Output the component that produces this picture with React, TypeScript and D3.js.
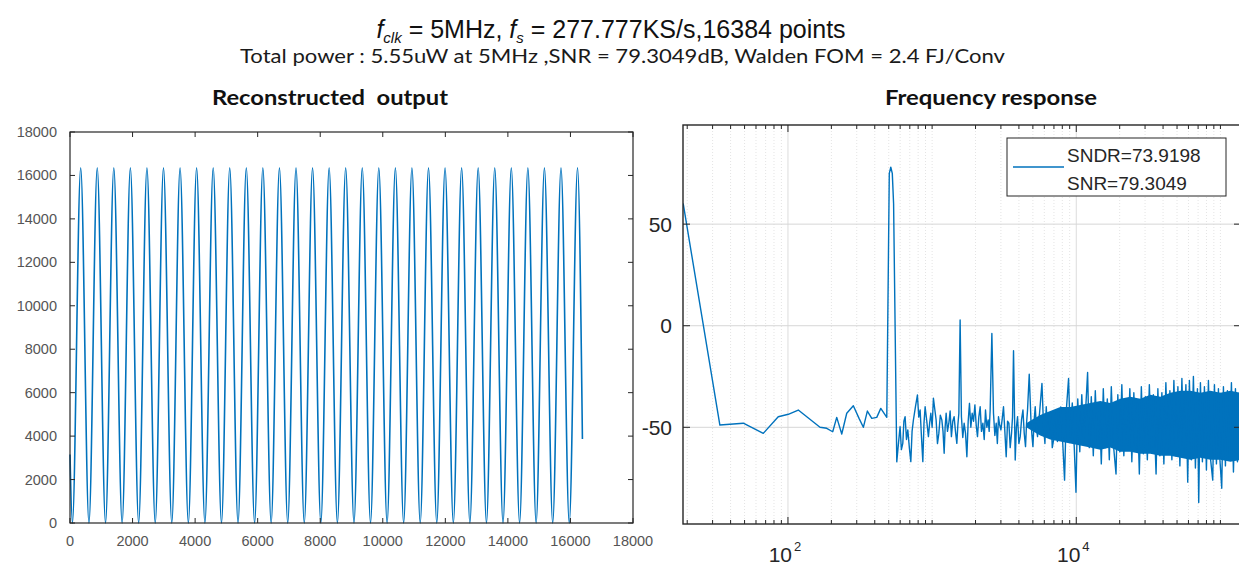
import React from "react";
import * as d3 from "d3";

const width = 1239;
const height = 567;
const blue = "#0072BD";
const axisColor = "#262626";

// reconstructed output: sample index of each turning point and its code
const outIndex = [
  0, 77, 342, 606, 871, 1136, 1401, 1666, 1930, 2195, 2460, 2725, 2989, 3254,
  3519, 3784, 4048, 4313, 4578, 4843, 5107, 5372, 5637, 5902, 6166, 6431, 6696,
  6961, 7226, 7490, 7755, 8020, 8285, 8549, 8814, 9079, 9344, 9608, 9873,
  10138, 10403, 10667, 10932, 11197, 11462, 11726, 11991, 12256, 12521, 12785,
  13050, 13315, 13580, 13844, 14109, 14374, 14639, 14903, 15168, 15433, 15698,
  15962, 16227, 16383,
];
const outCode = [
  3150, 0, 16350, 0, 16350, 0, 16350, 0, 16350, 0, 16350, 0, 16350, 0, 16350,
  0, 16350, 0, 16350, 0, 16350, 0, 16350, 0, 16350, 0, 16350, 0, 16350, 0,
  16350, 0, 16350, 0, 16350, 0, 16350, 0, 16350, 0, 16350, 0, 16350, 0, 16350,
  0, 16350, 0, 16350, 0, 16350, 0, 16350, 0, 16350, 0, 16350, 0, 16350, 0,
  16350, 0, 16350, 3870,
];
const outTickValues = [0, 2000, 4000, 6000, 8000, 10000, 12000, 14000, 16000, 18000];

// frequency response (Hz, dB)
const specFreq = [
  18.75, 33.7, 49, 67.4, 85.6, 100.5, 117.9, 166.8, 185.7, 204.4, 217.9, 236.1,
  255.7, 284.1, 311.2, 333.4, 355.4, 381.4, 413, 440.4, 484.7, 504.5, 516.8,
  529.3, 540.4, 568.7, 584, 599.5, 612, 626, 637, 649.5, 664, 678.2, 695, 711.5,
  726, 741.6, 766, 790.6, 808, 825.6, 844, 862, 878, 894.4, 918, 942.6, 961,
  979.5, 1000, 1021, 1043, 1066, 1089, 1113, 1140, 1168, 1190, 1212, 1231, 1251,
  1278, 1306, 1333, 1361, 1391, 1421, 1452, 1484, 1508, 1533, 1564, 1597, 1632,
  1668, 1705, 1742, 1779, 1816, 1856, 1896, 1938, 1980, 2022, 2064, 2108, 2154,
  2200, 2250, 2298, 2346, 2396, 2448, 2487, 2527, 2597, 2665, 2724, 2783, 2835,
  2887, 2943, 3000, 3062, 3127, 3195, 3265, 3336, 3409, 3480, 3554, 3612, 3670,
  3771, 3842, 3913, 3998, 4085, 4175, 4266, 4355, 4446, 4519, 4591, 4717, 4847,
  4925, 5004, 5097, 5191, 5289, 5387, 5474, 5561, 5780, 5930, 6060, 6190, 6305,
  6422, 6545, 6674, 6815, 6958, 7110, 7262, 7400, 7534,
  7806, 8058, 8294, 8522, 8842, 9085, 9381, 9685, 9952, 10240, 10575, 10920,
  11275, 11641, 11982, 12312, 12712, 13125, 13551, 13992, 14446, 14916, 15399,
  15899, 16416, 16950, 17500, 18067, 18866, 19418, 20050, 20701, 21374, 22067,
  22783, 23524, 24288, 25078, 25891, 26520, 27384, 28274, 29193, 30143, 31121,
  32129, 33174, 34253, 35770, 36813, 38011, 39246, 40518, 41834, 43195, 44601,
  46050, 47546, 49093, 50690, 52340, 54030, 55790, 57600, 59290, 60920, 62900,
  64940, 67060, 69240, 70700, 72640, 74990, 77430, 79950, 82550, 85230, 88420,
  90860, 93810, 96850, 99200, 102100, 104900, 108300, 111800, 115500, 119200,
  123100, 127100, 131200, 135500, 138889,
];
const specDb = [
  60.2, -48.9, -48.0, -53.0, -44.8, -43.6, -41.5, -50.0, -50.5, -52.2, -45.1,
  -53.3, -43.1, -39.4, -45.6, -50.0, -42.0, -45.6, -45.1, -40.7, -45.1, 75, 78,
  75, 60, -67, -58, -49.7, -61, -57.9, -47, -44.8, -56, -51.3, -60, -66.9, -52,
  -46.4, -40, -34.1, -45, -41.5, -55, -66.9, -48, -39.9, -47, -54.6, -48,
  -43.1, -50, -35.7, -41, -46.4, -58, -53, -44, -46.4, -52, -62.8, -50, -43.1,
  -52, -48, -42, -54.6, -47, -44.8, -52, -57.9, -49, -43.1, 2.8, -44.8, -55,
  -48, -53, -64.5, -47, -38.2, -50, -43.1, -47, -39, -49, -54.6, -45, -39.9,
  -52, -48, -56, -41.5, -50, -46.4, -52, -41.5, -3.8, -43.1, -54, -48, -58,
  -44.8, -49, -51.3, -46, -39.9, -52, -64.5, -47, -48, -60, -53, -45, -12.3,
  -66.1, -50, -44.8, -58, -54.6, -46, -41.5, -53, -59.5, -48, -41.5, -23.9,
  -46.4, -54, -59.5, -47, -39.9, -50, -54.6, -47, -43.1, -28.4, -49.7, -58,
  -39.9, -50, -53, -45, -43.1, -60, -56.3, -47, -41.5, -57, -51.3,
  -40, -58, -76, -42, -26, -55, -38, -60, -82, -36, -62, -34, -58, -40, -23,
  -60, -35, -64, -32, -57, -38, -68, -31, -60, -36, -66, -30, -58, -73, -34,
  -62, -29, -64, -36, -60, -31, -67, -33, -61, -38, -73, -30, -63, -35, -66,
  -29, -60, -34, -73, -31, -64, -33, -68, -28, -62, -32, -66, -27, -64, -30,
  -69, -26, -63, -29, -77, -27, -66, -25, -70, -31, -87, -28, -67, -30, -71,
  -27, -65, -76, -29, -68, -31, -66, -80, -30, -69, -32, -66, -28, -72, -31,
  -67, -33, -60,
];

// dense noise floor: core of the band
const bandFreq = [
  4500, 5000, 5623, 6598, 7743, 9085, 10661, 12510, 14678, 17222, 20210, 23714,
  27826, 32650, 38312, 44958, 52754, 61900, 72630, 85230, 100000, 117300,
  138889,
];
const bandTop = [
  -48, -46, -44, -42, -40, -40, -39, -38, -37, -38, -36, -35, -36, -34, -35,
  -33, -32, -32, -33, -32, -33, -32, -33,
];
const bandBottom = [
  -50, -52, -54, -56, -57, -58, -59, -60, -61, -60, -62, -62, -63, -63, -64,
  -64, -65, -66, -65, -66, -66, -67, -66,
];

const dbTicks = [-50, 0, 50];
const freqMajor = [100, 10000];
const freqMajorExp = ["2", "4"];
const legendLines = ["SNDR=73.9198", "SNR=79.3049"];

const App = () => {
  // left panel
  const xOut = d3.scaleLinear().domain([0, 18000]).range([70, 633]);
  const yOut = d3.scaleLinear().domain([0, 18000]).range([523, 132]);
  const outLine = d3
    .line<number>()
    .x((d, i) => xOut(outIndex[i]))
    .y((d) => yOut(d))
    .curve(d3.curveMonotoneX);

  // right panel
  const xF = d3.scaleLog().domain([18.7, 138889]).range([683, 1241]);
  const yDb = d3.scaleLinear().domain([-97.6, 98.8]).range([524, 125]);
  const specLine = d3
    .line<number>()
    .x((d, i) => xF(specFreq[i]))
    .y((d) => yDb(d));
  const bandArea = d3
    .area<number>()
    .x((d, i) => xF(bandFreq[i]))
    .y0((d, i) => yDb(bandBottom[i]))
    .y1((d) => yDb(d));
  const minorF = xF
    .ticks()
    .filter((t) => !freqMajor.some((m) => Math.abs(m - t) < 1e-6));

  const [fx0, fx1] = xF.range();
  const [fy0, fy1] = [yDb.range()[1], yDb.range()[0]];

  return (
    <svg
      width={width}
      height={height}
      style={{ position: "absolute", left: 0, top: 0, display: "block", background: "#fff" }}
    >
      <defs>
        <clipPath id="specClip">
          <rect x={fx0} y={fy0} width={fx1 - fx0} height={fy1 - fy0} />
        </clipPath>
      </defs>

      {/* titles */}
      <text
        x={611}
        y={38}
        textAnchor="middle"
        fontFamily="Liberation Sans, Arial, sans-serif"
        fontSize={25}
        fill="#111"
      >
        <tspan fontStyle="italic">f</tspan>
        <tspan fontStyle="italic" fontSize={15} dy={5}>clk</tspan>
        <tspan dy={-5}> = 5MHz, </tspan>
        <tspan fontStyle="italic">f</tspan>
        <tspan fontStyle="italic" fontSize={15} dy={5}>s</tspan>
        <tspan dy={-5}> = 277.777KS/s,16384 points</tspan>
      </text>
      <text
        x={240}
        y={63}
        fontFamily="Lato, Open Sans, sans-serif"
        fontSize={19.5}
        fill="#1a1a1a"
        textLength={765}
        lengthAdjust="spacingAndGlyphs"
      >
        Total power : 5.55uW at 5MHz ,SNR = 79.3049dB, Walden FOM = 2.4 FJ/Conv
      </text>
      <text
        x={212}
        y={105}
        fontFamily="Lato, Open Sans, sans-serif"
        fontWeight="bold"
        fontSize={21}
        fill="#111"
        textLength={236}
        lengthAdjust="spacingAndGlyphs"
        style={{ whiteSpace: "pre" }}
      >
        Reconstructed  output
      </text>
      <text
        x={885}
        y={105}
        fontFamily="Lato, Open Sans, sans-serif"
        fontWeight="bold"
        fontSize={21}
        fill="#111"
        textLength={212}
        lengthAdjust="spacingAndGlyphs"
      >
        Frequency response
      </text>

      {/* left panel */}
      <g>
        <path d={outLine(outCode) || ""} fill="none" stroke={blue} strokeWidth={1.6} />
        <rect
          x={70}
          y={132}
          width={633 - 70}
          height={523 - 132}
          fill="none"
          stroke={axisColor}
          strokeWidth={1.2}
        />
        {outTickValues.map((t) => (
          <g key={"ox" + t}>
            <line x1={xOut(t)} x2={xOut(t)} y1={523} y2={518} stroke={axisColor} />
            <line x1={xOut(t)} x2={xOut(t)} y1={132} y2={137} stroke={axisColor} />
            <text
              x={xOut(t)}
              y={546}
              textAnchor="middle"
              fontFamily="Liberation Sans, Arial, sans-serif"
              fontSize={14.5}
              fill="#555"
            >
              {t}
            </text>
          </g>
        ))}
        {outTickValues.map((t) => (
          <g key={"oy" + t}>
            <line x1={70} x2={75} y1={yOut(t)} y2={yOut(t)} stroke={axisColor} />
            <line x1={633} x2={628} y1={yOut(t)} y2={yOut(t)} stroke={axisColor} />
            <text
              x={57}
              y={yOut(t) + 5}
              textAnchor="end"
              fontFamily="Liberation Sans, Arial, sans-serif"
              fontSize={14.5}
              fill="#555"
            >
              {t}
            </text>
          </g>
        ))}
      </g>

      {/* right panel */}
      <g>
        {minorF.map((t) => (
          <line
            key={"mg" + t}
            x1={xF(t)}
            x2={xF(t)}
            y1={fy0}
            y2={fy1}
            stroke="#e4e4e4"
            strokeDasharray="1,2"
          />
        ))}
        {freqMajor.map((t) => (
          <line key={"Mg" + t} x1={xF(t)} x2={xF(t)} y1={fy0} y2={fy1} stroke="#dcdcdc" />
        ))}
        {dbTicks.map((t) => (
          <line key={"yg" + t} x1={fx0} x2={fx1} y1={yDb(t)} y2={yDb(t)} stroke="#d6d6d6" />
        ))}
        <g clipPath="url(#specClip)">
          <path d={bandArea(bandTop) || ""} fill={blue} />
          <path
            d={specLine(specDb) || ""}
            fill="none"
            stroke={blue}
            strokeWidth={1.4}
            strokeLinejoin="round"
          />
        </g>
        <rect
          x={fx0}
          y={fy0}
          width={fx1 - fx0}
          height={fy1 - fy0}
          fill="none"
          stroke={axisColor}
          strokeWidth={1.4}
        />
        {minorF.map((t) => (
          <g key={"mt" + t}>
            <line x1={xF(t)} x2={xF(t)} y1={fy1} y2={fy1 - 4} stroke={axisColor} />
            <line x1={xF(t)} x2={xF(t)} y1={fy0} y2={fy0 + 4} stroke={axisColor} />
          </g>
        ))}
        {freqMajor.map((t, i) => (
          <g key={"Mt" + t}>
            <line x1={xF(t)} x2={xF(t)} y1={fy1} y2={fy1 - 7} stroke={axisColor} />
            <line x1={xF(t)} x2={xF(t)} y1={fy0} y2={fy0 + 7} stroke={axisColor} />
            <text
              x={xF(t) - 3}
              y={562}
              textAnchor="middle"
              fontFamily="Liberation Sans, Arial, sans-serif"
              fontSize={21}
              fill="#262626"
            >
              10
              <tspan fontSize={13} dx={2} dy={-11}>
                {freqMajorExp[i]}
              </tspan>
            </text>
          </g>
        ))}
        {dbTicks.map((t) => (
          <g key={"yt" + t}>
            <line x1={fx0} x2={fx0 + 7} y1={yDb(t)} y2={yDb(t)} stroke={axisColor} />
            <line x1={fx1} x2={fx1 - 7} y1={yDb(t)} y2={yDb(t)} stroke={axisColor} />
            <text
              x={672}
              y={yDb(t) + 7.5}
              textAnchor="end"
              fontFamily="Liberation Sans, Arial, sans-serif"
              fontSize={21}
              fill="#262626"
            >
              {t}
            </text>
          </g>
        ))}

        {/* legend */}
        <rect x={1007} y={138} width={219} height={58} fill="#fff" stroke={axisColor} strokeWidth={1} />
        <line x1={1013} x2={1064} y1={167} y2={167} stroke={blue} strokeWidth={1.6} />
        {legendLines.map((s, i) => (
          <text
            key={s}
            x={1067}
            y={161.5 + i * 28.5}
            fontFamily="Liberation Sans, Arial, sans-serif"
            fontSize={19}
            fill="#262626"
          >
            {s}
          </text>
        ))}
      </g>
    </svg>
  );
};

export default App;
